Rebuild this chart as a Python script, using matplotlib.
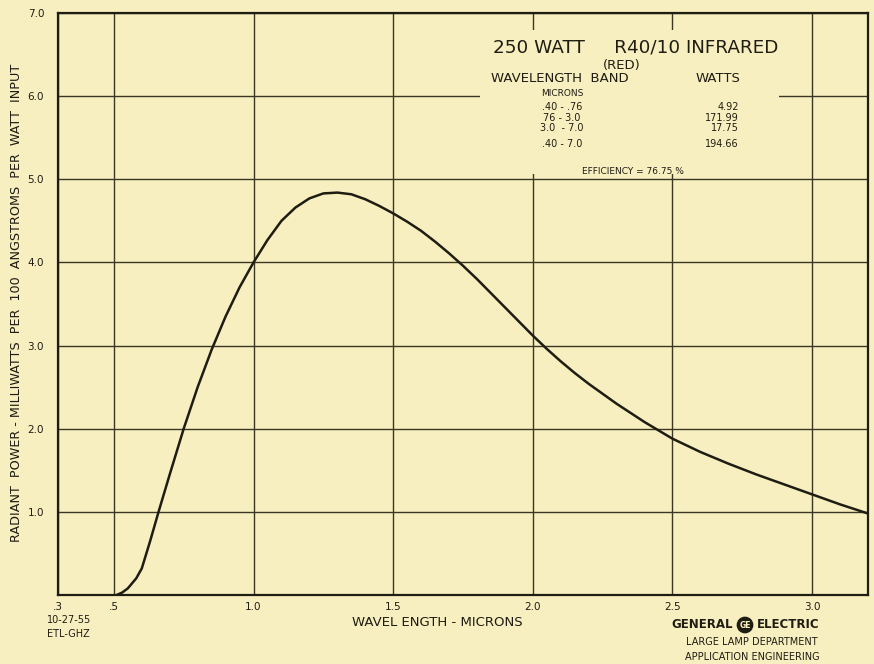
import matplotlib
matplotlib.use("Agg")
import matplotlib.pyplot as plt
from matplotlib.patches import Rectangle

# ---- data ----
wavelength = [0.51, 0.53, 0.55, 0.58, 0.60, 0.63, 0.66, 0.70, 0.75, 0.80, 0.85, 0.90, 0.95,
              1.00, 1.05, 1.10, 1.15, 1.20, 1.25, 1.30, 1.35, 1.40, 1.45, 1.50, 1.55,
              1.60, 1.65, 1.70, 1.75, 1.80, 1.85, 1.90, 1.95, 2.00, 2.05, 2.10, 2.15,
              2.20, 2.25, 2.30, 2.35, 2.40, 2.45, 2.50, 2.60, 2.70, 2.80, 2.90, 3.00,
              3.10, 3.20]
power = [0.00, 0.03, 0.08, 0.20, 0.32, 0.65, 1.00, 1.45, 2.00, 2.50, 2.95, 3.35, 3.70,
         4.00, 4.27, 4.50, 4.66, 4.77, 4.83, 4.84, 4.82, 4.76, 4.68, 4.59, 4.49,
         4.38, 4.25, 4.11, 3.96, 3.80, 3.63, 3.46, 3.29, 3.12, 2.96, 2.81, 2.67,
         2.54, 2.42, 2.30, 2.19, 2.08, 1.98, 1.88, 1.72, 1.58, 1.45, 1.33, 1.21,
         1.09, 0.98]

x_ticks = [0.3, 0.5, 1.0, 1.5, 2.0, 2.5, 3.0]
x_tick_labels = [".3", ".5", "1.0", "1.5", "2.0", "2.5", "3.0"]
y_ticks = [1, 2, 3, 4, 5, 6, 7]
y_tick_labels = ["1.0", "2.0", "3.0", "4.0", "5.0", "6.0", "7.0"]

bands = [".40 - .76", "76 - 3.0", "3.0  - 7.0", ".40 - 7.0"]
band_watts = ["4.92", "171.99", "17.75", "194.66"]

# ---- style ----
BG = "#f8efc1"
INK = "#1f1c12"
GRID = "#3b3622"
W, H = 874, 664

fig = plt.figure(figsize=(W / 100, H / 100), dpi=100, facecolor=BG)
ax = fig.add_axes([58 / W, 1 - 595 / H, 810 / W, (595 - 13) / H])
ax.set_facecolor(BG)


def fx(px):
    return px / W


def fy(py):
    return 1 - py / H


ax.set_xlim(0.3, 3.2)
ax.set_ylim(0, 7.0)
ax.set_xticks(x_ticks, labels=x_tick_labels)
ax.set_yticks(y_ticks, labels=y_tick_labels)
ax.tick_params(length=0, labelsize=7.5, colors=INK)
ax.tick_params(axis="x", pad=5)
ax.tick_params(axis="y", pad=10)
ax.set_axisbelow(True)
ax.grid(True, color=GRID, lw=1.0)
for s in ax.spines.values():
    s.set_color(INK)
    s.set_linewidth(1.6)

# blank area behind the annotation block (grid interrupted there)
ax.add_patch(Rectangle((1.81, 5.06), 2.88 - 1.81, 6.80 - 5.06,
                       facecolor=BG, edgecolor="none", zorder=1))

ax.plot(wavelength, power, color=INK, lw=1.8, zorder=3,
        solid_capstyle="round", solid_joinstyle="round")

# annotation block
fig.text(fx(636), fy(47), "250 WATT     R40/10 INFRARED", ha="center", va="center",
         fontsize=13.2, color=INK)
fig.text(fx(622), fy(65), "(RED)", ha="center", va="center", fontsize=9.5, color=INK)
fig.text(fx(560), fy(79), "WAVELENGTH  BAND", ha="center", va="center", fontsize=9.5, color=INK)
fig.text(fx(718), fy(79), "WATTS", ha="center", va="center", fontsize=9.5, color=INK)
fig.text(fx(562), fy(93), "MICRONS", ha="center", va="center", fontsize=6.5, color=INK)
band_y = [107, 118, 128, 144]
for b, wv, yy in zip(bands, band_watts, band_y):
    fig.text(fx(562), fy(yy), b, ha="center", va="center", fontsize=7, color=INK)
    fig.text(fx(739), fy(yy), wv, ha="right", va="center", fontsize=7, color=INK)
fig.text(fx(633), fy(172), "EFFICIENCY = 76.75 %", ha="center", va="center",
         fontsize=6.5, color=INK)

# axis labels
fig.text(fx(17), fy(303),
         "RADIANT  POWER - MILLIWATTS  PER  100  ANGSTROMS  PER  WATT  INPUT",
         rotation=90, ha="center", va="center", fontsize=9.2, color=INK)
fig.text(fx(437), fy(622), "WAVEL ENGTH - MICRONS", ha="center", va="center",
         fontsize=9.5, color=INK)

# footer notes
fig.text(fx(47), fy(620), "10-27-55", ha="left", va="center", fontsize=7, color=INK)
fig.text(fx(47), fy(634), "ETL-GHZ", ha="left", va="center", fontsize=7, color=INK)

fig.text(fx(733), fy(625), "GENERAL", ha="right", va="center", fontsize=8.5,
         fontweight="bold", color=INK)
fig.text(fx(745), fy(625), "GE", ha="center", va="center", fontsize=5.5,
         fontweight="bold", color=BG,
         bbox=dict(boxstyle="circle,pad=0.25", facecolor=INK, edgecolor=INK))
fig.text(fx(757), fy(625), "ELECTRIC", ha="left", va="center", fontsize=8.5,
         fontweight="bold", color=INK)
fig.text(fx(752), fy(642), "LARGE LAMP DEPARTMENT", ha="center", va="center",
         fontsize=7, color=INK)
fig.text(fx(752), fy(657), "APPLICATION ENGINEERING", ha="center", va="center",
         fontsize=7, color=INK)

fig.savefig("out.png", dpi=100, facecolor=BG)
